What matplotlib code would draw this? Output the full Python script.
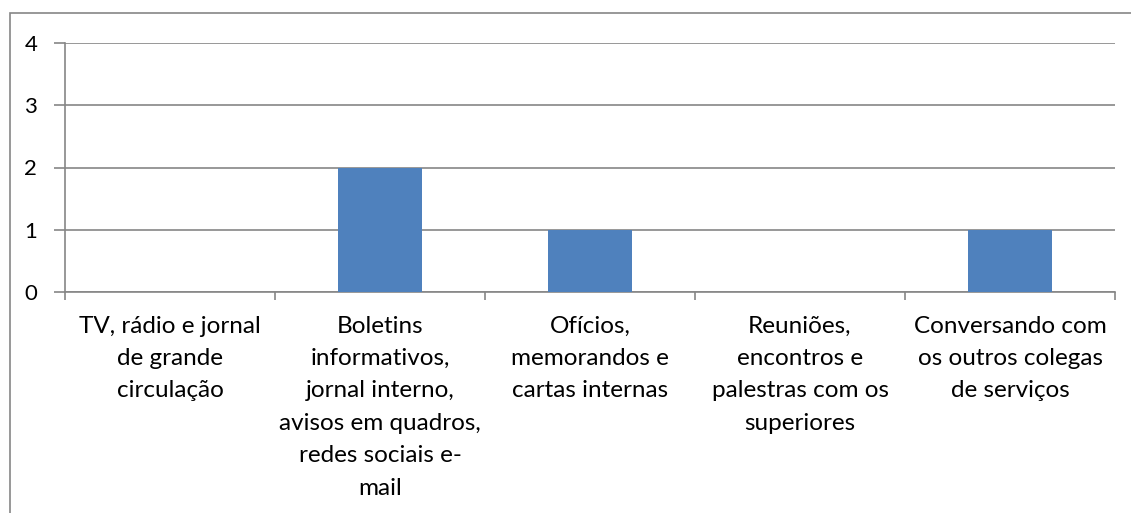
import matplotlib.pyplot as plt
from matplotlib.patches import Rectangle

categorias = [
    "TV, rádio e jornal\nde grande\ncirculação",
    "Boletins\ninformativos,\njornal interno,\navisos em quadros,\nredes sociais e-\nmail",
    "Ofícios,\nmemorandos e\ncartas internas",
    "Reuniões,\nencontros e\npalestras com os\nsuperiores",
    "Conversando com\nos outros colegas\nde serviços",
]
valores = [0, 2, 1, 0, 1]
y_ticks = [0, 1, 2, 3, 4]

cinza = "#868686"
azul = "#4F81BD"

plt.rcParams["font.family"] = ["Lato", "DejaVu Sans"]

W, H = 1131, 513
fig = plt.figure(figsize=(W / 100, H / 100), dpi=100)
ax = fig.add_axes([65 / W, 1 - 292 / H, (1115 - 65) / W, (292 - 43) / H])

# moldura externa do gráfico
fig.patches.append(Rectangle((10 / W, -0.1), 1.2, 1.1 - 13 / H, transform=fig.transFigure,
                             fill=False, edgecolor=cinza, linewidth=1.2))

ax.bar(range(len(valores)), valores, width=0.4, color=azul, zorder=3)

ax.set_xlim(-0.5, len(categorias) - 0.5)
ax.set_ylim(0, 4)
ax.set_yticks(y_ticks)
ax.yaxis.grid(True, color=cinza, linewidth=1.2, zorder=0)
ax.tick_params(axis="y", length=8, width=1.2, color=cinza, labelsize=16, pad=12)

ax.set_xticks(range(len(categorias)))
ax.set_xticklabels(categorias, fontsize=17.5, linespacing=1.67, va="top")
ax.tick_params(axis="x", which="major", length=0, pad=17)
ax.set_xticks([i - 0.5 for i in range(len(categorias) + 1)], minor=True)
ax.tick_params(axis="x", which="minor", length=6, width=1.2, color=cinza)

for s in ["top", "right"]:
    ax.spines[s].set_visible(False)
for s in ["left", "bottom"]:
    ax.spines[s].set_color(cinza)
    ax.spines[s].set_linewidth(1.2)

fig.savefig("out.png", dpi=100)
